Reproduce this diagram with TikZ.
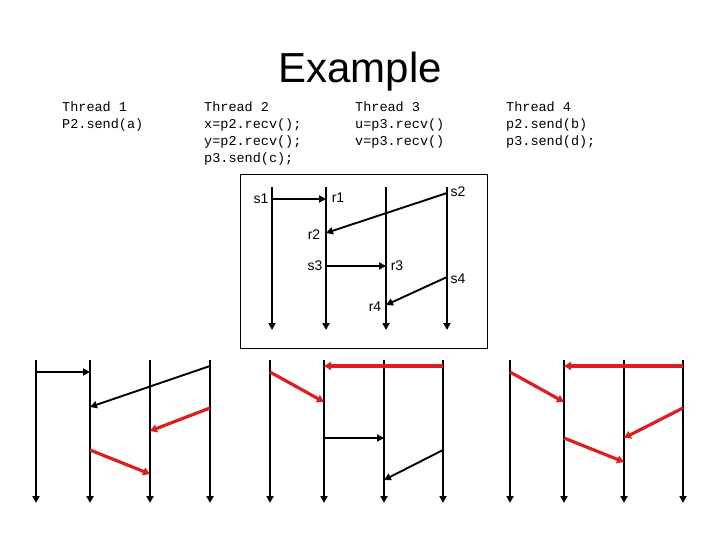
\documentclass[tikz,border=0pt]{standalone}
\usepackage{fontspec}
\setmainfont{Liberation Sans}
\setmonofont{Liberation Mono}
\usetikzlibrary{arrows.meta}
\definecolor{ink}{RGB}{0,0,0}
\definecolor{hot}{RGB}{220,30,30}
\tikzset{
  ttl/.style={font=\fontsize{42}{48}\selectfont,anchor=base,inner sep=0pt},
  prog/.style={font=\ttfamily\fontsize{13.5}{17}\selectfont,align=left,anchor=base west,inner sep=0pt},
  evt/.style={font=\fontsize{14}{16}\selectfont,inner sep=0pt},
  frame/.style={draw=ink,line width=1pt,minimum width=247,minimum height=173,inner sep=0pt},
  life/.style={-{Triangle[length=7pt,width=7pt]},line width=2.6pt,ink},
  msg/.style={-{Triangle[length=7pt,width=7pt]},line width=1.9pt,ink},
  bad/.style={-{Triangle[length=7pt,width=8pt]},line width=3.2pt,hot},
}

\begin{document}
\begin{tikzpicture}[x=1pt,y=-1pt]
  \useasboundingbox (0,0) rectangle (720,540);
  \node[ttl] (head) at (360,83) {Example};
  % base of a code block = baseline of its last line
  \node[prog] (th1) at (62,129) {Thread 1\\P2.send(a)};
  \node[prog] (th2) at (204,163) {Thread 2\\x=p2.recv();\\y=p2.recv();\\p3.send(c);};
  \node[prog] (th3) at (355,146) {Thread 3\\u=p3.recv()\\v=p3.recv()};
  \node[prog] (th4) at (506,146) {Thread 4\\p2.send(b)\\p3.send(d);};

  % the trace in the box
  \node[frame] (box) at (363.5,261.5) {};
  \coordinate (a1) at (272,187); \coordinate (z1) at (272,330);
  \coordinate (a2) at (326,187); \coordinate (z2) at (326,330);
  \coordinate (a3) at (386,187); \coordinate (z3) at (386,330);
  \coordinate (a4) at (447,187); \coordinate (z4) at (447,330);
  \draw[life] (a1) -- (z1);
  \draw[life] (a2) -- (z2);
  \draw[life] (a3) -- (z3);
  \draw[life] (a4) -- (z4);
  \coordinate (s1) at (272,199); \coordinate (r1) at (326,199);
  \coordinate (s2) at (447,193); \coordinate (r2) at (326,233);
  \coordinate (s3) at (326,266); \coordinate (r3) at (386,266);
  \coordinate (s4) at (447,277); \coordinate (r4) at (386,305);
  \draw[msg] (s1) -- (r1);
  \draw[msg] (s2) -- (r2);
  \draw[msg] (s3) -- (r3);
  \draw[msg] (s4) -- (r4);
  \node[evt] (ls1) at (261,199) {s1};
  \node[evt] (lr1) at (338,198) {r1};
  \node[evt] (ls2) at (458,192) {s2};
  \node[evt] (lr2) at (314,235) {r2};
  \node[evt] (ls3) at (315,266) {s3};
  \node[evt] (lr3) at (397,266) {r3};
  \node[evt] (ls4) at (458,279) {s4};
  \node[evt] (lr4) at (375,307) {r4};

  % left panel
  \coordinate (la1) at (36,360);  \coordinate (lz1) at (36,503);
  \coordinate (la2) at (90,360);  \coordinate (lz2) at (90,503);
  \coordinate (la3) at (150,360); \coordinate (lz3) at (150,503);
  \coordinate (la4) at (210,360); \coordinate (lz4) at (210,503);
  \draw[life] (la1) -- (lz1);
  \draw[life] (la2) -- (lz2);
  \draw[life] (la3) -- (lz3);
  \draw[life] (la4) -- (lz4);
  \coordinate (lsa) at (36,372);  \coordinate (lra) at (90,372);
  \coordinate (lsb) at (210,366); \coordinate (lrb) at (90,407);
  \coordinate (lsd) at (210,408); \coordinate (lrd) at (150,431);
  \coordinate (lsc) at (90,450);  \coordinate (lrc) at (150,474);
  \draw[msg] (lsa) -- (lra);
  \draw[msg] (lsb) -- (lrb);
  \draw[bad] (lsd) -- (lrd);
  \draw[bad] (lsc) -- (lrc);

  % middle panel
  \coordinate (ma1) at (270,360); \coordinate (mz1) at (270,503);
  \coordinate (ma2) at (324,360); \coordinate (mz2) at (324,503);
  \coordinate (ma3) at (384,360); \coordinate (mz3) at (384,503);
  \coordinate (ma4) at (443,360); \coordinate (mz4) at (443,503);
  \draw[life] (ma1) -- (mz1);
  \draw[life] (ma2) -- (mz2);
  \draw[life] (ma3) -- (mz3);
  \draw[life] (ma4) -- (mz4);
  \coordinate (msb) at (443,366); \coordinate (mrb) at (324,366);
  \coordinate (msa) at (270,372); \coordinate (mra) at (324,402);
  \coordinate (msc) at (324,438); \coordinate (mrc) at (384,438);
  \coordinate (msd) at (443,450); \coordinate (mrd) at (384,480);
  \draw[bad] (msb) -- (mrb);
  \draw[bad] (msa) -- (mra);
  \draw[msg] (msc) -- (mrc);
  \draw[msg] (msd) -- (mrd);

  % right panel
  \coordinate (ra1) at (510,360); \coordinate (rz1) at (510,503);
  \coordinate (ra2) at (564,360); \coordinate (rz2) at (564,503);
  \coordinate (ra3) at (624,360); \coordinate (rz3) at (624,503);
  \coordinate (ra4) at (683,360); \coordinate (rz4) at (683,503);
  \draw[life] (ra1) -- (rz1);
  \draw[life] (ra2) -- (rz2);
  \draw[life] (ra3) -- (rz3);
  \draw[life] (ra4) -- (rz4);
  \coordinate (rsb) at (683,366); \coordinate (rrb) at (564,366);
  \coordinate (rsa) at (510,372); \coordinate (rra) at (564,402);
  \coordinate (rsd) at (683,408); \coordinate (rrd) at (624,438);
  \coordinate (rsc) at (564,438); \coordinate (rrc) at (624,462);
  \draw[bad] (rsb) -- (rrb);
  \draw[bad] (rsa) -- (rra);
  \draw[bad] (rsd) -- (rrd);
  \draw[bad] (rsc) -- (rrc);
\end{tikzpicture}
\end{document}
